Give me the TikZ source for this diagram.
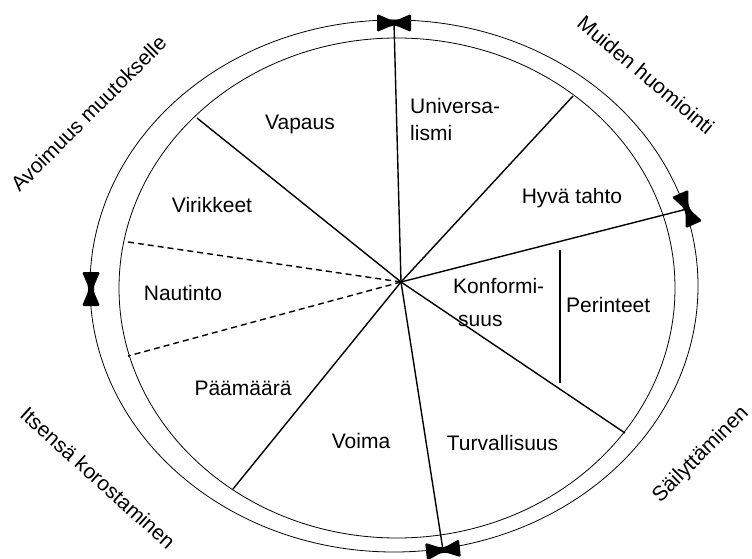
\documentclass[tikz,border=0pt]{standalone}
\usepackage{fontspec}
\setmainfont{Liberation Sans}
\begin{document}
\begin{tikzpicture}[x=1pt,y=-1pt,
  spoke/.style={line width=1.4pt},
  rim/.style={line width=0.8pt},
  dashspoke/.style={line width=1.4pt, dash pattern=on 6pt off 4pt},
  lbl/.style={inner sep=0pt, font=\fontsize{21}{25}\selectfont},
  bowtie/.pic={\fill[rounded corners=1.5pt] (-17,-9) -- (-3,-3) -- (3,-3) -- (17,-9) -- (17,9) -- (3,3) -- (-3,3) -- (-17,9) -- cycle;}]
\useasboundingbox (0,0) rectangle (752,559);
% rims
\draw[rim] (394,286) ellipse [x radius=304pt, y radius=266pt];
\draw[rim] (397,288) ellipse [x radius=278pt, y radius=250pt];
% centre and spoke ends
\coordinate (c) at (401,282);
\coordinate (tTop) at (394,23);
\coordinate (tRight) at (687,209);
\coordinate (tBottom) at (443,550);
\coordinate (tLeft) at (91,289);
\coordinate (eUR) at (573,96);
\coordinate (eUL) at (197,118);
\coordinate (eDU) at (128,242);
\coordinate (eDL) at (128,356);
\coordinate (eLL) at (233,489);
\coordinate (eLR) at (625,433);
\coordinate (pTop) at (560,250);
\coordinate (pBot) at (560,383);
% spokes
\draw[spoke] (c) -- (tTop);
\draw[spoke] (c) -- (tRight);
\draw[spoke] (c) -- (tBottom);
\draw[spoke] (c) -- (eUR);
\draw[spoke] (c) -- (eUL);
\draw[spoke] (c) -- (eLL);
\draw[spoke] (c) -- (eLR);
\draw[dashspoke] (c) -- (eDU);
\draw[dashspoke] (c) -- (eDL);
\draw[spoke] (pTop) -- (pBot);
% bowties
\pic at (tTop) {bowtie};
\pic[rotate=-66] at (tRight) {bowtie};
\pic[rotate=6] at (tBottom) {bowtie};
\pic[rotate=90] at (tLeft) {bowtie};
% sector labels
\node[lbl, anchor=base] (vapaus) at (300,130) {Vapaus};
\node[lbl, anchor=base west] (univ1) at (410,114) {Universa-};
\node[lbl, anchor=base west] (univ2) at (410,141) {lismi};
\node[lbl, anchor=base] (hyva) at (572,203) {Hyvä tahto};
\node[lbl, anchor=base] (virik) at (212,212.5) {Virikkeet};
\node[lbl, anchor=base] (naut) at (183,300.5) {Nautinto};
\node[lbl, anchor=base west] (konf1) at (453,293) {Konformi-};
\node[lbl, anchor=base west] (konf2) at (458,326) {suus};
\node[lbl, anchor=base west] (perin) at (566,312) {Perinteet};
\node[lbl, anchor=base] (paam) at (243,395) {Päämäärä};
\node[lbl, anchor=base] (voima) at (361,448) {Voima};
\node[lbl, anchor=base] (turva) at (502.5,450.7) {Turvallisuus};
% outer labels
\node[lbl, rotate=45] (avo) at (88.5,113.5) {Avoimuus muutokselle};
\node[lbl, rotate=-40] (muid) at (646,75) {Muiden huomiointi};
\node[lbl, rotate=-42] (itse) at (98,478) {Itsensä korostaminen};
\node[lbl, rotate=45] (sail) at (701,455) {Säilyttäminen};
\end{tikzpicture}
\end{document}
